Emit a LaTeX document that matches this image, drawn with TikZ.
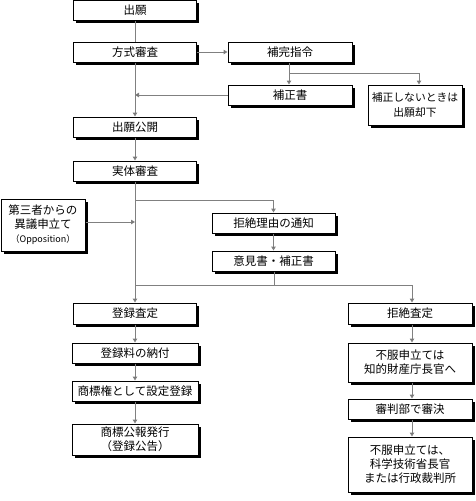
\documentclass[tikz,border=0pt]{standalone}
\usepackage{fontspec}
\setmainfont{Noto Sans CJK JP}
\usetikzlibrary{arrows.meta,shadows}
\begin{document}
\begin{tikzpicture}[x=1pt,y=-1pt,
  box/.style={draw=black,fill=white,line width=1pt,inner sep=0pt,align=center,
    font=\fontsize{11.5}{14}\selectfont,
    drop shadow={shadow xshift=2.5pt,shadow yshift=-2.5pt,fill=black,opacity=1}},
  conn/.style={draw=black!50,line width=1pt},
  arr/.style={conn,-{Triangle[length=4pt,width=4.5pt,fill=black!80]}}]
\useasboundingbox (0,0) rectangle (475,501);
\node[box,minimum width=123pt,minimum height=20pt] (a) at (135,10.5) {出願};
\node[box,minimum width=123pt,minimum height=20pt] (b) at (135,52) {方式審査};
\node[box,minimum width=124pt,minimum height=20pt] (c) at (290,52) {補完指令};
\node[box,minimum width=124pt,minimum height=20pt] (d) at (290,95) {補正書};
\node[box,minimum width=94pt,minimum height=40pt,font=\fontsize{10.8}{15}\selectfont] (e) at (415,105) {補正しないときは\\出願却下};
\node[box,minimum width=123pt,minimum height=20pt] (f) at (135,127) {出願公開};
\node[box,minimum width=123pt,minimum height=20pt] (g) at (135,171) {実体審査};
\node[box,minimum width=84pt,minimum height=52pt] (h) at (43,225) {第三者からの\\異議申立て\\{\fontsize{9}{10}\selectfont （Opposition）}};
\node[box,minimum width=123pt,minimum height=20pt] (i) at (273.5,223) {拒絶理由の通知};
\node[box,minimum width=123pt,minimum height=20pt] (j) at (273.5,261) {意見書・補正書};
\node[box,minimum width=123pt,minimum height=21pt] (k) at (135,313.5) {登録査定};
\node[box,minimum width=124pt,minimum height=21pt] (l) at (410,313.5) {拒絶査定};
\node[box,minimum width=126pt,minimum height=20pt] (m) at (135,353) {登録料の納付};
\node[box,minimum width=126pt,minimum height=20pt] (n) at (135,391) {商標権として設定登録};
\node[box,minimum width=126pt,minimum height=31pt] (o) at (135,439.5) {商標公報発行\\（登録公告）};
\node[box,minimum width=124pt,minimum height=39pt] (p) at (410,362.5) {不服申立ては\\知的財産庁長官へ};
\node[box,minimum width=124pt,minimum height=20pt] (q) at (410,409) {審判部で審決};
\node[box,minimum width=124pt,minimum height=55pt] (r) at (410,464.5) {不服申立ては、\\科学技術省長官\\または行政裁判所};
\coordinate (cj) at (289,73);
\coordinate (dm) at (135,95);
\coordinate (gj) at (135,200);
\coordinate (hm) at (135,222);
\coordinate (jj) at (274,285);
\coordinate (kj) at (135,285);
\coordinate (lj) at (412,285);
\coordinate (ej) at (419,73);
\draw[conn] (a.south) -- (b.north);
\draw[arr] (b.east) -- (c.west);
\draw[arr] (b.south) -- (f.north);
\draw[conn] (c.south -| cj) -- (cj);
\draw[arr] (cj) -- (cj |- d.north);
\draw[arr] (cj) -- (ej) -- (ej |- e.north);
\draw[arr] (d.west) -- (dm);
\draw[arr] (f.south) -- (g.north);
\draw[arr] (g.south) -- (k.north);
\draw[arr] (gj) -| (i.north);
\draw[arr] (h.east |- hm) -- (hm);
\draw[arr] (i.south) -- (j.north);
\draw[conn] (j.south -| jj) -- (jj);
\draw[conn] (kj) -- (lj);
\draw[arr] (lj) -- (lj |- l.north);
\draw[arr] (k.south) -- (m.north);
\draw[arr] (m.south) -- (n.north);
\draw[arr] (n.south) -- (o.north);
\draw[arr] (l.south -| lj) -- (lj |- p.north);
\draw[arr] (p.south -| lj) -- (lj |- q.north);
\draw[arr] (q.south -| lj) -- (lj |- r.north);
\end{tikzpicture}
\end{document}
